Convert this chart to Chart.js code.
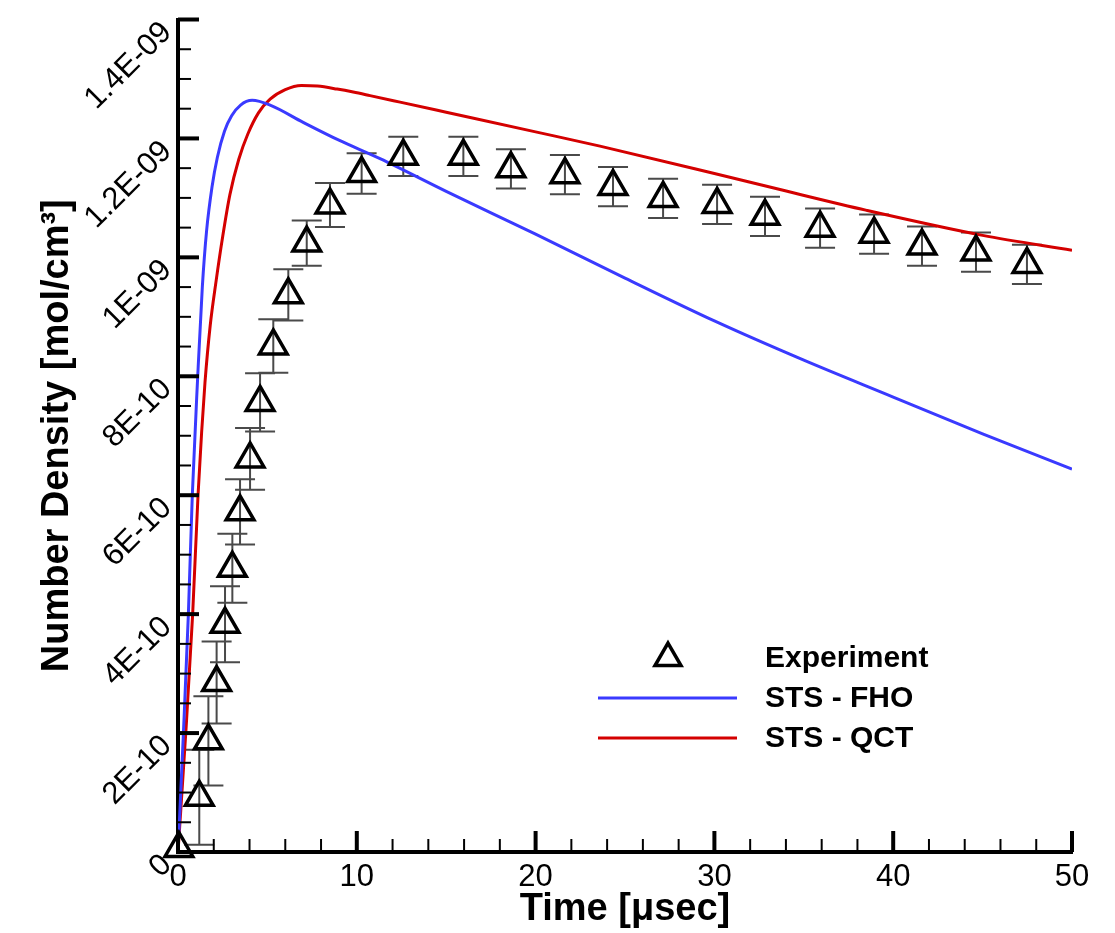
<!DOCTYPE html>
<html><head><meta charset="utf-8">
<script src="https://cdn.jsdelivr.net/npm/chart.js@4.4.1/dist/chart.umd.min.js"></script>
<style>html,body{margin:0;padding:0;background:#fff;}</style>
</head><body>
<canvas id="c" width="1115" height="933"></canvas>
<script>
// ---- data (time in microseconds, number density in mol/cm^3) ----
const expTime    = [0.05, 1.19, 1.70, 2.16, 2.63, 3.04, 3.47, 4.03, 4.59, 5.33, 6.17, 7.20, 8.50, 10.27, 12.60, 15.96, 18.62, 21.64, 24.33, 27.13, 30.15, 32.83, 35.91, 38.93, 41.61, 44.63, 47.48];
const expDensity = [0.006e-9, 0.092e-9, 0.187e-9, 0.285e-9, 0.383e-9, 0.477e-9, 0.572e-9, 0.661e-9, 0.756e-9, 0.851e-9, 0.937e-9, 1.024e-9, 1.088e-9, 1.141e-9, 1.170e-9, 1.170e-9, 1.149e-9, 1.139e-9, 1.119e-9, 1.099e-9, 1.089e-9, 1.069e-9, 1.049e-9, 1.039e-9, 1.019e-9, 1.009e-9, 0.988e-9];
const expError   = [0, 0.080e-9, 0.075e-9, 0.069e-9, 0.064e-9, 0.058e-9, 0.055e-9, 0.052e-9, 0.049e-9, 0.045e-9, 0.043e-9, 0.038e-9, 0.037e-9, 0.034e-9, 0.033e-9, 0.033e-9, 0.033e-9, 0.033e-9, 0.033e-9, 0.033e-9, 0.033e-9, 0.033e-9, 0.033e-9, 0.033e-9, 0.033e-9, 0.033e-9, 0.033e-9];

const fhoTime    = [0, 0.3, 0.58, 0.8, 1.1, 1.36, 1.6, 1.9, 2.2, 2.6, 3.0, 3.5, 4.15, 5.15, 7, 9, 11.3, 15, 20, 25, 30, 35, 40, 45, 50];
const fhoDensity = [0, 0.198e-9, 0.40e-9, 0.60e-9, 0.798e-9, 0.950e-9, 1.045e-9, 1.118e-9, 1.168e-9, 1.212e-9, 1.238e-9, 1.256e-9, 1.264e-9, 1.256e-9, 1.227e-9, 1.197e-9, 1.166e-9, 1.111e-9, 1.039e-9, 0.965e-9, 0.893e-9, 0.827e-9, 0.765e-9, 0.703e-9, 0.644e-9];

const qctTime    = [0, 0.43, 0.82, 1.12, 1.32, 1.51, 1.8, 2.13, 2.5, 2.9, 3.4, 3.9, 4.5, 5.15, 6.0, 6.9, 7.8, 8.9, 9.8, 10.74, 12.42, 15, 20, 23.6, 30, 33.67, 38.52, 45, 50];
const qctDensity = [0, 0.198e-9, 0.40e-9, 0.60e-9, 0.705e-9, 0.790e-9, 0.885e-9, 0.960e-9, 1.035e-9, 1.105e-9, 1.165e-9, 1.207e-9, 1.243e-9, 1.266e-9, 1.282e-9, 1.289e-9, 1.288e-9, 1.283e-9, 1.278e-9, 1.272e-9, 1.261e-9, 1.244e-9, 1.211e-9, 1.187e-9, 1.141e-9, 1.114e-9, 1.079e-9, 1.037e-9, 1.012e-9];

const seriesNames = ['Experiment', 'STS - FHO', 'STS - QCT'];
const xTickValues = [0, 10, 20, 30, 40, 50];
const xTickLabels = ['0', '10', '20', '30', '40', '50'];
const yTickValues = [0, 2e-10, 4e-10, 6e-10, 8e-10, 1e-9, 1.2e-9, 1.4e-9];
const yTickLabels = ['0', '2E-10', '4E-10', '6E-10', '8E-10', '1E-09', '1.2E-09', '1.4E-09'];
const xTitle = 'Time [\u03BCsec]';
const yTitle = 'Number Density [mol/cm\u00B3]';

const FONT = "'Liberation Sans', Arial, Helvetica, sans-serif";

const toXY = (xs, ys) => xs.map((t, i) => ({x: t, y: ys[i]}));

const errorBars = {
  id: 'errorBars',
  beforeDatasetsDraw(chart, args, o) {
    const {ctx, scales: {x, y}} = chart;
    ctx.save();
    ctx.strokeStyle = o.color; ctx.lineWidth = o.width;
    expTime.forEach((t, i) => {
      const e = expError[i];
      if (!e) return;
      const px = x.getPixelForValue(t);
      const top = y.getPixelForValue(expDensity[i] + e);
      const bot = y.getPixelForValue(expDensity[i] - e);
      ctx.beginPath();
      ctx.moveTo(px, top); ctx.lineTo(px, bot);
      ctx.moveTo(px - o.cap, top); ctx.lineTo(px + o.cap, top);
      ctx.moveTo(px - o.cap, bot); ctx.lineTo(px + o.cap, bot);
      ctx.stroke();
    });
    ctx.restore();
  }
};

const axisTicks = {
  id: 'axisTicks',
  afterDraw(chart, args, o) {
    const {ctx, chartArea: a, scales: {x, y}} = chart;
    ctx.save(); ctx.strokeStyle = '#000'; ctx.lineCap = 'butt';
    const nx = Math.round((x.max - x.min) / o.xMinor);
    for (let i = 0; i <= nx; i++) {
      const major = i % o.xPer === 0;
      const px = x.getPixelForValue(x.min + i * o.xMinor);
      ctx.lineWidth = major ? o.majorW : o.minorW;
      ctx.beginPath(); ctx.moveTo(px, a.bottom); ctx.lineTo(px, a.bottom - (major ? o.majorLen : o.minorLen)); ctx.stroke();
    }
    const ny = Math.round((y.max - y.min) / o.yMinor);
    for (let i = 0; i <= ny; i++) {
      const major = i % o.yPer === 0;
      const py = y.getPixelForValue(y.min + i * o.yMinor);
      ctx.lineWidth = major ? o.majorW : o.minorW;
      ctx.beginPath(); ctx.moveTo(a.left, py); ctx.lineTo(a.left + (major ? o.majorLen : o.minorLen), py); ctx.stroke();
    }
    ctx.restore();
  }
};

const customLegend = {
  id: 'customLegend',
  afterDraw(chart, args, o) {
    const ctx = chart.ctx;
    ctx.save();
    ctx.font = o.font; ctx.textAlign = 'left'; ctx.textBaseline = 'middle'; ctx.fillStyle = '#000';
    chart.data.datasets.forEach((ds, i) => {
      const yy = o.y + i * o.rowGap;
      if (ds.showLine === false) {
        const r = o.symbolR, cx = o.symbolX;
        ctx.strokeStyle = ds.borderColor; ctx.lineWidth = ds.borderWidth; ctx.lineJoin = 'miter';
        ctx.beginPath();
        ctx.moveTo(cx, yy - r);
        ctx.lineTo(cx + r * Math.sin(2 * Math.PI / 3), yy - r * Math.cos(2 * Math.PI / 3));
        ctx.lineTo(cx + r * Math.sin(4 * Math.PI / 3), yy - r * Math.cos(4 * Math.PI / 3));
        ctx.closePath(); ctx.stroke();
      } else {
        ctx.strokeStyle = ds.borderColor; ctx.lineWidth = ds.borderWidth;
        ctx.beginPath(); ctx.moveTo(o.lineX1, yy); ctx.lineTo(o.lineX2, yy); ctx.stroke();
      }
      ctx.fillText(ds.label, o.textX, yy + o.textDy);
    });
    ctx.restore();
  }
};

new Chart(document.getElementById('c'), {
  type: 'scatter',
  data: {
    datasets: [
      { label: seriesNames[0], data: toXY(expTime, expDensity), showLine: false,
        pointStyle: 'triangle', pointRadius: 16, pointHoverRadius: 16, borderWidth: 3.5,
        borderColor: '#000', backgroundColor: 'rgba(0,0,0,0)', clip: false },
      { label: seriesNames[1], data: toXY(fhoTime, fhoDensity), showLine: true, pointRadius: 0,
        borderColor: '#3a3aff', borderWidth: 3, cubicInterpolationMode: 'monotone', fill: false },
      { label: seriesNames[2], data: toXY(qctTime, qctDensity), showLine: true, pointRadius: 0,
        borderColor: '#d40000', borderWidth: 3, cubicInterpolationMode: 'monotone', fill: false }
    ]
  },
  options: {
    responsive: false, animation: false, devicePixelRatio: 1,
    layout: { padding: { top: 15, right: 43, left: 0, bottom: 0 } },
    plugins: {
      legend: { display: false }, tooltip: { enabled: false },
      errorBars: { color: '#4a4a4a', width: 2, cap: 15 },
      axisTicks: { xMinor: 2, xPer: 5, yMinor: 5e-11, yPer: 4, majorLen: 21, minorLen: 13, majorW: 4, minorW: 2 },
      customLegend: { font: "bold 30px " + FONT, y: 658, rowGap: 40, symbolX: 668, symbolR: 15,
                      lineX1: 598, lineX2: 737, textX: 765, textDy: 1 }
    },
    scales: {
      x: {
        type: 'linear', min: 0, max: 50,
        afterBuildTicks: s => { s.ticks = xTickValues.map(v => ({value: v})); },
        afterFit: s => { s.height = 81; s.paddingLeft = 0; s.paddingRight = 0; },
        grid: { display: false, drawTicks: false },
        border: { display: true, color: '#000', width: 4 },
        ticks: { color: '#000', font: { family: FONT, size: 31 }, padding: 7, maxRotation: 0, autoSkip: false,
                 callback: (v, i) => xTickLabels[i] },
        title: { display: true, text: xTitle, color: '#000', font: { family: FONT, size: 38, weight: 'bold' },
                 padding: { top: 0, bottom: 1 } }
      },
      y: {
        type: 'linear', min: 0, max: 1.4e-9,
        afterBuildTicks: s => { s.ticks = yTickValues.map(v => ({value: v})); },
        afterFit: s => { s.width = 178; s.paddingTop = 0; s.paddingBottom = 0; },
        grid: { display: false, drawTicks: false },
        border: { display: true, color: '#000', width: 4 },
        ticks: { color: '#000', font: { family: FONT, size: 31 }, padding: 11, labelOffset: 8,
                 minRotation: 45, maxRotation: 45, autoSkip: false,
                 callback: (v, i) => yTickLabels[i] },
        title: { display: true, text: yTitle, color: '#000', font: { family: FONT, size: 38, weight: 'bold' },
                 padding: { top: 35, bottom: 0 } }
      }
    }
  },
  plugins: [errorBars, axisTicks, customLegend]
});
</script>
</body></html>
